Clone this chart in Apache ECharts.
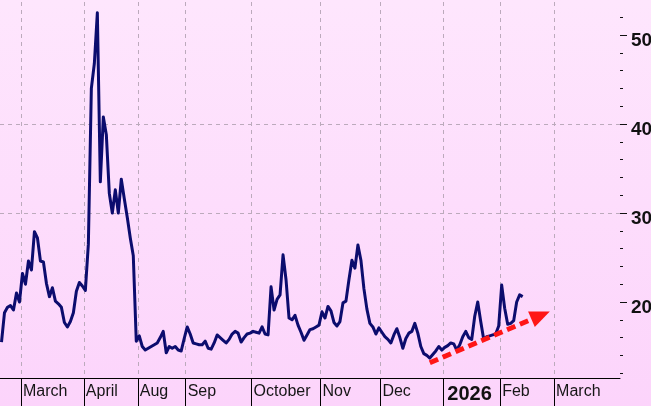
<!DOCTYPE html>
<html><head><meta charset="utf-8">
<script src="https://cdn.jsdelivr.net/npm/echarts@6/dist/echarts.min.js"></script>
<style>html,body{margin:0;padding:0;background:#fde0fc;}#c{width:651px;height:406px;}</style>
</head><body><div id="c"></div>
<script>
// ---- data ----
const dayCount = 207;
const monthStarts = [7, 28, 46, 62, 84, 107, 127, 148, 167, 185];
const monthLabels = ['March', 'April', 'Aug', 'Sep', 'October', 'Nov', 'Dec', '2026', 'Feb', 'March'];
const yTickValues = [20, 30, 40, 50];
const yMinorTickValues = [12, 14, 16, 18, 22, 24, 26, 28, 32, 34, 36, 38, 42, 44, 46, 48, 52];
const vix = [
  15.5, 18.8, 19.4, 19.6, 19.1, 21.0, 20.0, 23.2, 22.0, 24.6,
  23.6, 27.9, 27.2, 24.6, 24.5, 22.1, 20.6, 21.6, 20.1, 19.8,
  19.4, 17.7, 17.2, 17.8, 18.8, 21.2, 22.2, 21.8, 21.3, 26.5,
  44.0, 46.8, 52.5, 33.5, 40.8, 38.8, 32.2, 30.0, 32.6, 30.0,
  33.8, 31.6, 29.5, 27.2, 25.2, 15.6, 16.2, 15.0, 14.6, 14.8,
  15.0, 15.2, 15.4, 16.0, 16.7, 14.3, 15.0, 14.8, 15.0, 14.6,
  14.5, 15.9, 17.2, 16.4, 15.4, 15.3, 15.2, 15.2, 15.6, 14.8,
  14.7, 15.4, 16.3, 16.0, 15.7, 15.4, 15.8, 16.4, 16.7, 16.5,
  15.5, 16.0, 16.4, 16.5, 16.7, 16.6, 16.5, 17.2, 16.4, 16.3,
  21.7, 19.1, 20.3, 20.8, 25.3, 22.5, 18.2, 18.0, 18.5, 17.4,
  16.6, 15.7, 16.3, 16.9, 17.0, 17.2, 17.4, 18.9, 18.2, 19.5,
  19.0, 17.7, 17.3, 17.8, 19.9, 20.1, 22.5, 24.7, 23.8, 26.4,
  24.7, 21.5, 19.2, 17.6, 17.2, 16.4, 17.1, 16.6, 16.1, 15.8,
  15.4, 16.3, 17.0, 16.0, 14.8, 15.9, 16.5, 16.7, 17.6, 16.5,
  15.0, 14.2, 14.0, 13.7, 14.1, 14.5, 15.0, 14.6, 14.9, 15.1,
  15.4, 15.3, 14.6, 15.2, 16.1, 16.7, 16.0, 15.8, 18.4, 20.0,
  17.8, 15.8, 16.1, 16.2, 16.3, 16.4, 17.3, 21.9, 19.3, 17.5,
  17.6, 17.9, 20.0, 20.8, 20.6
];
const trendStart = [143, 13.17];
const trendEnd = [180, 18.5];

// ---- chart ----
const labelFont = '"Liberation Sans", Arial, sans-serif';
const labelOf = {};
monthStarts.forEach((d, k) => { labelOf[d] = monthLabels[k]; });
const gridLine = {color: '#bcaabc', width: 1, type: [4, 4]};

const chart = echarts.init(document.getElementById('c'), null, {renderer: 'canvas'});
chart.setOption({
  animation: false,
  backgroundColor: {
    type: 'linear', x: 0, y: 0, x2: 0, y2: 1,
    colorStops: [{offset: 0, color: '#fee6fd'}, {offset: 1, color: '#fcd4fb'}]
  },
  grid: {left: 0, right: 31, bottom: 15, height: 445, containLabel: false, outerBoundsMode: 'none'},
  xAxis: {
    type: 'value', min: 0, max: dayCount, offset: -13,
    axisLine: {show: true, onZero: false, lineStyle: {color: '#000', width: 1}},
    axisTick: {show: true, customValues: monthStarts, length: 28, inside: false,
      lineStyle: {color: '#000', width: 1}},
    axisLabel: {
      show: true, customValues: monthStarts, align: 'left', margin: 6,
      fontFamily: labelFont, fontSize: 16, color: '#161616',
      formatter: v => { const t = labelOf[v] || ''; return t === '2026' ? '{b|' + t + '}' : '{n|' + t + '}'; },
      rich: {
        n: {fontFamily: labelFont, fontSize: 16, color: '#161616', padding: [0, 0, 0, 2]},
        b: {fontFamily: labelFont, fontWeight: 'bold', fontSize: 20, color: '#111', padding: [0, 0, 0, 4]}
      }
    },
    splitLine: {show: true, lineStyle: gridLine}
  },
  yAxis: [{
    type: 'value', position: 'right', min: 10, max: 60, interval: 10,
    axisLine: {show: false, onZero: false},
    axisTick: {show: true, customValues: yTickValues, length: 7, lineStyle: {color: '#111', width: 1}},
    minorTick: {show: false},
    axisLabel: {
      customValues: yTickValues, margin: 11,
      fontFamily: labelFont, fontWeight: 'bold', fontSize: 19, color: '#111',
      verticalAlign: 'top', lineHeight: 12
    },
    splitLine: {show: true, showMinLine: false, showMaxLine: false, lineStyle: gridLine},
    minorSplitLine: {show: false}
  }, {
    type: 'value', position: 'right', min: 10, max: 60, interval: 2,
    axisLine: {show: false, onZero: false},
    axisTick: {show: true, customValues: yMinorTickValues, length: 3, lineStyle: {color: '#111', width: 1}},
    axisLabel: {show: false},
    splitLine: {show: false}
  }],
  series: [{
    type: 'line',
    yAxisIndex: 0,
    data: vix.map((v, i) => [i + 0.5, v]),
    showSymbol: false,
    symbol: 'none',
    lineStyle: {color: '#0c0c6e', width: 3, join: 'round'},
    silent: true,
    markLine: {
      silent: true,
      symbol: ['none', 'triangle'],
      symbolSize: [17, 20],
      label: {show: false},
      lineStyle: {color: '#ff1616', width: 5, type: [9, 5], opacity: 1},
      emphasis: {disabled: true},
      data: [[
        {coord: [trendStart[0] + 0.5, trendStart[1]]},
        {coord: [trendEnd[0] + 0.5, trendEnd[1]]}
      ]]
    }
  }]
});
</script>
</body></html>
